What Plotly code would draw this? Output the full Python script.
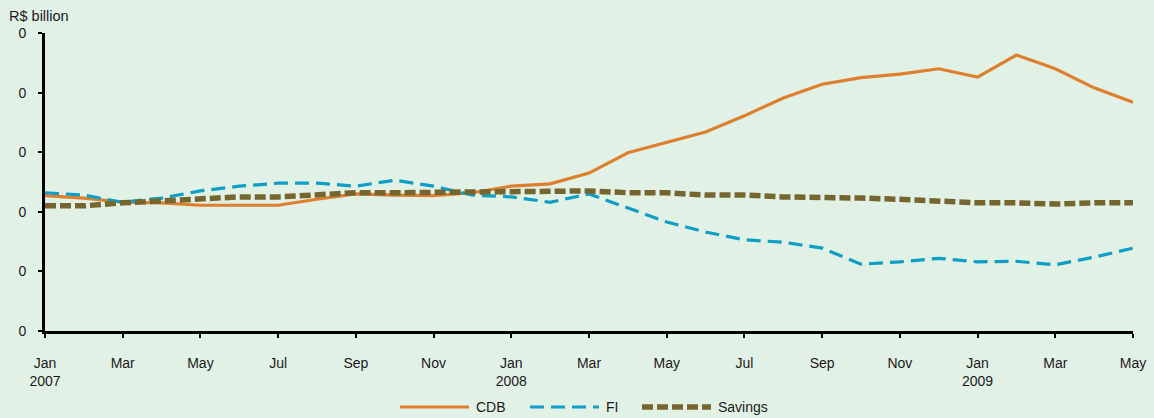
import plotly.graph_objects as go

# Monthly series, Jan 2007 - May 2009 (R$ billion)
months = [
    "Jan 2007", "Feb 2007", "Mar 2007", "Apr 2007", "May 2007", "Jun 2007",
    "Jul 2007", "Aug 2007", "Sep 2007", "Oct 2007", "Nov 2007", "Dec 2007",
    "Jan 2008", "Feb 2008", "Mar 2008", "Apr 2008", "May 2008", "Jun 2008",
    "Jul 2008", "Aug 2008", "Sep 2008", "Oct 2008", "Nov 2008", "Dec 2008",
    "Jan 2009", "Feb 2009", "Mar 2009", "Apr 2009", "May 2009",
]
cdb = [22.7, 22.3, 21.6, 21.5, 21.1, 21.1, 21.1, 22.1, 23.0, 22.8, 22.7, 23.2,
       24.3, 24.7, 26.5, 29.9, 31.7, 33.4, 36.1, 39.1, 41.4, 42.5, 43.1, 44.0,
       42.6, 46.3, 44.0, 40.8, 38.4]
fi = [23.2, 22.8, 21.6, 22.3, 23.5, 24.3, 24.8, 24.8, 24.3, 25.3, 24.3, 22.8,
      22.5, 21.6, 23.0, 20.6, 18.3, 16.6, 15.3, 14.9, 13.9, 11.2, 11.6, 12.2,
      11.6, 11.7, 11.1, 12.4, 13.9]
savings = [21.0, 21.0, 21.5, 21.8, 22.1, 22.5, 22.5, 22.8, 23.2, 23.2, 23.3, 23.3,
           23.5, 23.5, 23.5, 23.2, 23.2, 22.8, 22.8, 22.5, 22.5, 22.3, 22.1, 21.8,
           21.5, 21.5, 21.3, 21.5, 21.5]

x_tick_vals = months[::2]
x_tick_text = ["Jan<br>2007", "Mar", "May", "Jul", "Sep", "Nov",
               "Jan<br>2008", "Mar", "May", "Jul", "Sep", "Nov",
               "Jan<br>2009", "Mar", "May"]
y_tick_vals = [0, 10, 20, 30, 40, 50]
y_tick_text = ["0", "0", "0", "0", "0", "0"]

series_names = ["CDB", "FI", "Savings"]
series_values = [cdb, fi, savings]
series_styles = [
    dict(color="#DE7F2E", width=3.2),
    dict(color="#0E9EC6", width=3.2, dash="14px,7px"),
    dict(color="#776530", width=5.5, dash="11px,4px"),
]

bg = "#E2F1E6"
text_color = "#1a1a1a"
font = dict(family="Liberation Sans, Arial, sans-serif", size=14, color=text_color)

W, H = 1154, 418
margin = dict(l=45, r=21, t=33, b=87)
plot_w = W - margin["l"] - margin["r"]
plot_h = H - margin["t"] - margin["b"]


def px_to_paper(px, py):
    return (px - margin["l"]) / plot_w, (H - margin["b"] - py) / plot_h


fig = go.Figure()
for name, values, style in zip(series_names, series_values, series_styles):
    fig.add_trace(go.Scatter(x=months, y=values, name=name, mode="lines",
                             line=style, showlegend=False))

# Legend row below the axis: long line samples followed by the series names
legend_shapes, legend_notes = [], []
legend_starts = [400, 530, 642]
for name, style, x0 in zip(series_names, series_styles, legend_starts):
    ax0, ay = px_to_paper(x0, 407)
    ax1, _ = px_to_paper(x0 + 69, 407)
    legend_shapes.append(dict(type="line", xref="paper", yref="paper",
                              x0=ax0, x1=ax1, y0=ay, y1=ay, line=style))
    tx, _ = px_to_paper(x0 + 74, 407)
    legend_notes.append(dict(text=name, xref="paper", yref="paper", x=tx, y=ay,
                             xanchor="left", yanchor="middle", showarrow=False,
                             font=dict(size=14, color=text_color)))

title_x, title_y = px_to_paper(7, 16)
fig.update_layout(
    width=W, height=H,
    margin=dict(**margin, autoexpand=False),
    paper_bgcolor=bg, plot_bgcolor=bg,
    font=font,
    showlegend=False,
    shapes=legend_shapes,
    annotations=[dict(
        text="R$ billion", xref="paper", yref="paper", x=title_x, y=title_y,
        xanchor="left", yanchor="middle", showarrow=False,
        font=dict(size=14.5, color=text_color),
    )] + legend_notes,
)
fig.update_xaxes(
    type="category", categoryorder="array", categoryarray=months,
    range=[0, len(months) - 1],
    tickmode="array", tickvals=x_tick_vals, ticktext=x_tick_text,
    showline=True, linecolor="black", linewidth=3,
    ticks="outside", ticklen=4, tickwidth=2, tickcolor="black",
    showgrid=False, zeroline=False, ticklabelstandoff=13,
    automargin=False,
)
fig.update_yaxes(
    range=[0, 50], tickmode="array", tickvals=y_tick_vals, ticktext=y_tick_text,
    showline=True, linecolor="black", linewidth=3,
    ticks="outside", ticklen=4, tickwidth=2, tickcolor="black",
    showgrid=False, zeroline=False, ticklabelstandoff=9,
    automargin=False,
)

fig.write_html("out.html")
